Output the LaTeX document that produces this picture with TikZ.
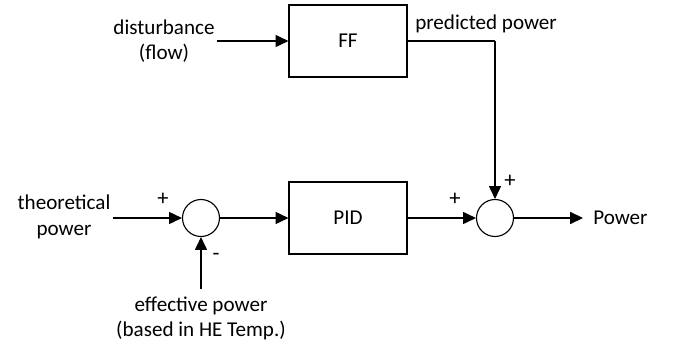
\documentclass[tikz,border=0pt]{standalone}
\usepackage{fontspec}
\setmainfont{Carlito}
\usetikzlibrary{calc}
\usetikzlibrary{positioning}
\usetikzlibrary{arrows.meta}

\tikzset{
  block/.style={draw, line width=0.8pt, minimum width=2.95cm, minimum height=1.8cm},
  sumnode/.style={draw, circle, line width=0.8pt, minimum size=0.925cm, inner sep=0pt},
  signal/.style={line width=0.8pt, -{Triangle[length=3.2mm,width=3mm]}},
  label/.style={align=center, inner sep=0.05cm}
}

\begin{document}
\begin{tikzpicture}[every node/.style={font=\fontsize{15}{18}\selectfont}]
  \useasboundingbox (0,0) rectangle (16.825,8.675);

  % blocks
  \node [block] at (8.7, 7.65) (ff) {FF};
  \node [block] at (8.7, 3.225) (pid) {PID};

  \node [sumnode] at (5.025, 3.225) (sum1) {};
  \node [sumnode] at (12.375, 3.225) (sum2) {};

  % inputs and output
  \node [label] at (4.1, 7.65) (dist) {disturbance\\(flow)};
  \node [label] at (1.6, 3.25) (theo) {theoretical\\power};
  \node [label, inner sep=0.2cm] at (5.025, 0.7125) (eff) {effective power\\(based in HE Temp.)};
  \node [anchor=west, inner sep=0.25cm] at (14.575, 3.225) (power) {Power};

  \coordinate (corner) at (12.375, 7.65);
  \node [anchor=south west, inner sep=0pt] at (10.375, 7.85) (pred) {predicted power};

  % signals
  \draw [signal] (dist) -- (ff);
  \draw [line width=0.8pt] (ff.east) -- (corner);
  \draw [signal] (corner) -- (sum2);
  \draw [signal] (theo.east |- sum1) -- (sum1);
  \draw [signal] (eff) -- (sum1);
  \draw [signal] (sum1) -- (pid);
  \draw [signal] (pid) -- (sum2);
  \draw [signal] (sum2) -- (power);

  % signs
  \begin{scope}[every node/.style={font=\fontsize{16}{18}\selectfont}]
    \node at (4.075, 3.7) (p1) {+};
    \node at (5.4, 2.25) (m1) {-};
    \node at (11.375, 3.7) (p2) {+};
    \node at (12.75, 4.15) (p3) {+};
  \end{scope}

\end{tikzpicture}
\end{document}
